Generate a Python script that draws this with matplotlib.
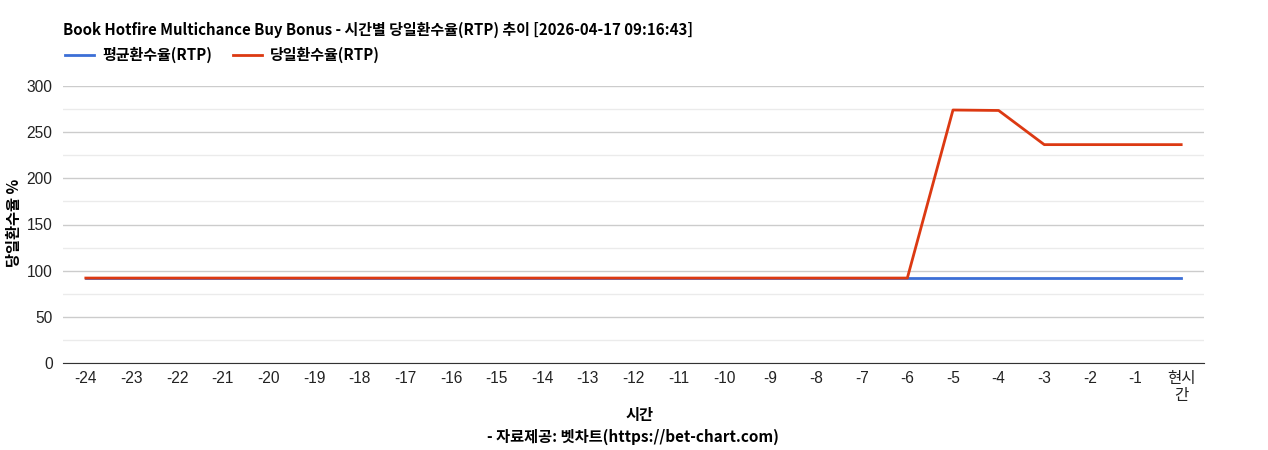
import matplotlib
matplotlib.use('Agg')
import matplotlib.pyplot as plt
from matplotlib.ticker import MultipleLocator

plt.rcParams['font.family'] = ['Liberation Sans', 'Noto Sans CJK KR', 'DejaVu Sans']

# data
hours = ['-24', '-23', '-22', '-21', '-20', '-19', '-18', '-17', '-16', '-15', '-14', '-13',
         '-12', '-11', '-10', '-9', '-8', '-7', '-6', '-5', '-4', '-3', '-2', '-1', '현시\n간']
avg_rtp = [92] * 25
day_rtp = [92, 92, 92, 92, 92, 92, 92, 92, 92, 92, 92, 92,
           92, 92, 92, 92, 92, 92, 92, 274, 273.5, 236.5, 236.5, 236.5, 236.5]

title = 'Book Hotfire Multichance Buy Bonus - 시간별 당일환수율(RTP) 추이 [2026-04-17 09:16:43]'
cjk = ['Noto Sans CJK KR', 'DejaVu Sans']

fig = plt.figure(figsize=(12.68, 4.5), dpi=100)
ax = fig.add_axes([63 / 1268, 1 - 363 / 450, (1204 - 63) / 1268, (363 - 86) / 450])

x = list(range(len(hours)))
ax.plot(x, avg_rtp, color='#3c6fd6', lw=2, label='평균환수율(RTP)', zorder=3)
ax.plot(x, day_rtp, color='#dc3912', lw=2, label='당일환수율(RTP)', zorder=4)

ax.set_xlim(-0.5, len(hours) - 0.5)
ax.set_ylim(0, 300)
ax.yaxis.set_major_locator(MultipleLocator(50))
ax.yaxis.set_minor_locator(MultipleLocator(25))
ax.grid(axis='y', which='major', color='#cccccc', lw=1)
ax.grid(axis='y', which='minor', color='#ebebeb', lw=1)
ax.set_axisbelow(True)
for s in ['top', 'right', 'left']:
    ax.spines[s].set_visible(False)
ax.spines['bottom'].set_color('#333333')
ax.tick_params(axis='both', which='both', length=0, labelsize=11.2, colors='#222222')
ax.tick_params(axis='y', pad=7.5)
ax.tick_params(axis='x', pad=6)
ax.set_xticks(x)
ax.set_xticklabels(hours, family=['Liberation Sans', 'Noto Sans CJK KR'], linespacing=1.15)
ax.set_yticks(range(0, 301, 50))

fig.text(14 / 1268, 1 - 223 / 450, '당일환수율 %', family=cjk, fontsize=11, fontweight='bold',
         rotation=90, ha='center', va='center')
fig.text(640 / 1268, 1 - 415 / 450, '시간', family=cjk, fontsize=11, fontweight='bold',
         ha='center', va='center')
fig.text(633 / 1268, 1 - 437 / 450, '- 자료제공: 벳차트(https://bet-chart.com)', family=cjk,
         fontsize=11, fontweight='bold', ha='center', va='center')
fig.text(63 / 1268, 1 - 30 / 450, title, family=cjk, fontsize=10.8, fontweight='bold',
         ha='left', va='center')

leg = fig.legend(loc='center left', bbox_to_anchor=(59 / 1268, 1 - 55 / 450), ncol=2, frameon=False,
                 prop={'family': cjk, 'size': 10.8, 'weight': 'bold'},
                 handlelength=1.95, handletextpad=0.55, columnspacing=1.35, borderaxespad=0)

fig.savefig('out.png', dpi=100)
